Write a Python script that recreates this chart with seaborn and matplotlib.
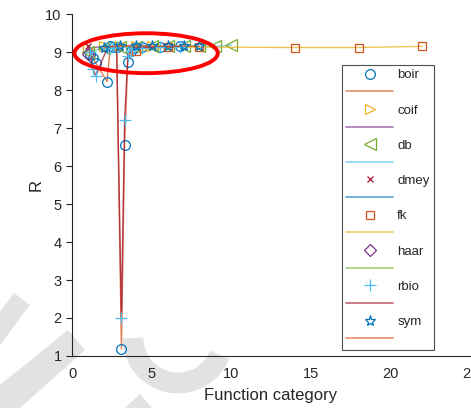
import numpy as np
import pandas as pd
import matplotlib
matplotlib.use('Agg')
import matplotlib.pyplot as plt
from matplotlib.lines import Line2D
from matplotlib.patches import Ellipse, Polygon, Arc
import seaborn as sns

# wavelet families, x = order inside family, y = R
boir_x = [1.1, 1.3, 1.5, 2.2, 2.4, 2.6, 2.8, 3.1, 3.3, 3.5, 3.7, 3.9, 4.4, 5.5, 6.8]
boir_y = [8.95, 8.85, 8.7, 8.22, 9.15, 9.14, 9.14, 1.18, 6.55, 8.75, 9.02, 9.1, 9.13, 9.13, 9.15]
coif_x = [1, 2, 3, 4, 5]
coif_y = [9.1, 9.15, 9.17, 9.16, 9.17]
db_x = [1, 2, 3, 4, 5, 6, 7, 8, 9, 10]
db_y = [9.0, 9.1, 9.13, 9.14, 9.15, 9.15, 9.16, 9.16, 9.15, 9.18]
dmey_x = [1]
dmey_y = [9.15]
fk_x = [4, 6, 8, 14, 18, 22]
fk_y = [9.02, 9.13, 9.13, 9.12, 9.12, 9.15]
haar_x = [1]
haar_y = [8.95]
rbio_x = [1.1, 1.3, 1.5, 2.2, 2.4, 2.6, 2.8, 3.1, 3.3, 3.5, 3.7, 3.9, 4.4, 5.5, 6.8]
rbio_y = [9.0, 8.55, 8.38, 9.1, 9.12, 9.13, 9.14, 2.0, 7.2, 8.9, 9.05, 9.1, 9.12, 9.13, 9.14]
sym_x = [2, 3, 4, 5, 6, 7, 8]
sym_y = [9.12, 9.15, 9.16, 9.15, 9.16, 9.16, 9.15]

names = ['boir', 'coif', 'db', 'dmey', 'fk', 'haar', 'rbio', 'sym']
xs = [boir_x, coif_x, db_x, dmey_x, fk_x, haar_x, rbio_x, sym_x]
ys = [boir_y, coif_y, db_y, dmey_y, fk_y, haar_y, rbio_y, sym_y]

blue = '#0072BD'; orange = '#D95319'; yellow = '#EDB120'; purple = '#7E2F8E'
green = '#77AC30'; lblue = '#4DBEEE'; dred = '#A2142F'
markers = ['o', '>', '<', 'x', 's', 'D', '+', '*']
mcolors = [blue, yellow, green, dred, orange, purple, lblue, blue]
msizes = [7, 7, 8, 5, 6, 6, 8, 8]
lcolors = [orange, purple, lblue, blue, yellow, green, dred, orange]

sns.set_style('white')
plt.rcParams['font.family'] = ['Liberation Sans', 'DejaVu Sans']

fig = plt.figure(figsize=(4.71, 4.08), dpi=100)
ax = fig.add_axes([0.153, 0.1275, 0.845, 0.838])
ax.set_facecolor('none')

for i in range(len(names)):
    df = pd.DataFrame({'x': xs[i], 'y': ys[i]})
    sns.lineplot(data=df, x='x', y='y', ax=ax, color=lcolors[i], alpha=0.75,
                 linewidth=1.0, sort=False, legend=False)
    sns.lineplot(data=df, x='x', y='y', ax=ax, color=mcolors[i], linestyle='none',
                 marker=markers[i], markersize=msizes[i], markerfacecolor='none',
                 markeredgecolor=mcolors[i], markeredgewidth=0.9, sort=False, legend=False)

ax.add_patch(Ellipse((4.65, 8.97), 9.0, 1.05, fill=False, edgecolor='#FF0000', linewidth=2.8, zorder=5))

ax.set_xlim(0, 25)
ax.set_ylim(1, 10)
ax.set_xticks([0, 5, 10, 15, 20, 25])
ax.set_yticks(range(1, 11))
ax.tick_params(axis='x', direction='in', length=4, labelsize=10.5, colors='#262626', pad=8)
ax.tick_params(axis='y', direction='out', length=4, labelsize=10.5, colors='#262626', left=True)
for s in ['top', 'right']:
    ax.spines[s].set_visible(False)
for s in ['left', 'bottom']:
    ax.spines[s].set_color('#262626')
    ax.spines[s].set_linewidth(0.8)
ax.set_xlabel('Function category', fontsize=12, color='#262626', labelpad=5)
ax.set_ylabel('R', fontsize=12, color='#262626', labelpad=1)

handles = []
labels = []
for i in range(len(names)):
    handles.append(Line2D([], [], linestyle='none', marker=markers[i], markersize=msizes[i],
                          markerfacecolor='none', markeredgecolor=mcolors[i], markeredgewidth=0.9))
    labels.append(names[i])
    handles.append(Line2D([], [], color=lcolors[i], alpha=0.6, linewidth=1.3))
    labels.append('')
leg = ax.legend(handles, labels, loc='upper left', bbox_to_anchor=(0.678, 0.851),
                borderaxespad=0, fontsize=9.5, frameon=True, fancybox=False,
                handlelength=3.6, labelspacing=0.41, borderpad=0.3, handletextpad=0.3)
leg.get_frame().set_edgecolor('#262626')
leg.get_frame().set_linewidth(0.8)

# faint watermark strokes (figure pixel coords, y from top)
wm = '#E2E2E2'
W, H = 471.0, 408.0
def fpoly(pts):
    return Polygon([[px / W, 1 - py / H] for px, py in pts], closed=True,
                   transform=fig.transFigure, facecolor=wm, edgecolor='none', zorder=-1)
fig.patches.append(fpoly([(0, 312), (14, 293), (30, 305), (0, 345)]))
fig.patches.append(fpoly([(0, 385), (68, 330), (85, 350), (20, 408), (0, 408)]))
fig.patches.append(fpoly([(125, 408), (140, 394), (152, 408)]))
fig.patches.append(Arc((178 / W, 1 - 338 / H), 90 / W, 90 / H, theta1=180, theta2=335,
                       transform=fig.transFigure, edgecolor=wm, linewidth=15, zorder=-1))

fig.savefig('out.png', dpi=100)
